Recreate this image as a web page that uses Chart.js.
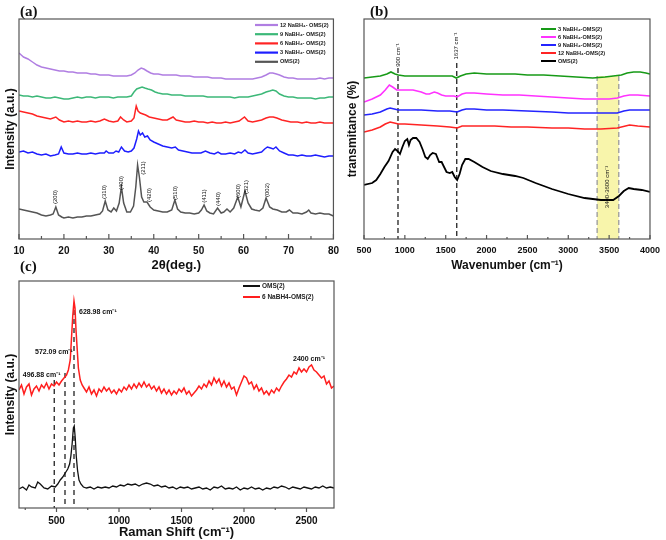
<!DOCTYPE html>
<html>
<head>
<meta charset="utf-8">
<script src="https://cdn.jsdelivr.net/npm/chart.js@4.4.1/dist/chart.umd.min.js"></script>
<style>
body { margin: 0; background: #fff; }
#wrap { position: relative; width: 666px; height: 540px; }
canvas { position: absolute; }
</style>
</head>
<body>
<div id="wrap">
<canvas id="xrd" width="345" height="275" style="left:0;top:0"></canvas>
<canvas id="ftir" width="326" height="275" style="left:340px;top:0"></canvas>
<canvas id="raman" width="345" height="285" style="left:0;top:255px"></canvas>
</div>
<script>
// ---- (a) XRD, [2theta, intensity] ----
const xrdOms = [[10,30],[11,29],[12,28],[13,27],[14,26],[15,24],[16,23],[17,24],[17.6,25],[18.2,32],[18.8,24],[19.5,22],[20,21],[21,22],[22,21],[23,22],[24,22],[25,23],[26,23],[27,24],[28,25],[28.6,28],[29.2,38],[29.8,29],[30.5,27],[31.1,31],[31.7,28],[32.3,36],[32.8,52],[33.3,36],[34,27],[34.8,27],[35.5,33],[36,52],[36.4,74],[36.8,62],[37.3,42],[37.8,37],[38.5,37],[39.2,32],[40,29],[41,28],[42,27],[43,27],[44,29],[44.7,39],[45.3,30],[46,27],[47,26],[48,26],[49,25],[50,26],[50.6,29],[51.2,34],[51.8,28],[52.5,26],[53.3,25],[54.2,31],[55,26],[55.6,27],[56.3,30],[57,27],[57.8,31],[58.7,42],[59.4,32],[60.3,48],[61,36],[61.8,30],[62.5,29],[63.5,28],[64.3,31],[65,41],[65.8,32],[66.5,30],[67.5,29],[68.5,27],[69.5,27],[70.2,29],[71,26],[72,26],[73,25],[74,27],[74.5,29],[75,26],[76,25],[77,26],[78,25],[79,25],[80,23]];
const xrd3 = [[10,87],[11,88],[12,86],[13,87],[14,85],[15,84],[16,85],[17,83],[18,84],[18.8,85],[19.4,92],[20,86],[21,85],[22,85],[23,86],[24,85],[25,85],[26,86],[27,85],[28,86],[29,86],[29.4,88],[30,86],[31,86],[31.6,88],[32.2,87],[32.8,92],[33.5,88],[34.3,87],[35,88],[35.6,91],[36.2,100],[36.6,108],[37,104],[37.5,106],[38,102],[38.6,103],[39.2,99],[40,97],[41,95],[42,93],[43,92],[44,91],[44.8,92],[45.5,89],[46.5,88],[47.5,87],[48.5,86],[49.5,86],[50.5,86],[51.5,88],[52.5,86],[53.5,85],[54.3,87],[55,85],[56,85],[57,86],[58,85],[58.8,87],[59.5,86],[60.3,89],[61,86],[62,85],[63,86],[64,87],[64.7,90],[65.3,92],[66,91],[66.6,90],[67.2,92],[68,88],[69,86],[70,84],[71,84],[72,83],[73,84],[74,83],[75,83],[76,84],[77,83],[78,82],[79,83],[80,83]];
const xrd6 = [[10,128],[11,127],[12,126],[13,125],[14,123],[15,122],[16,121],[17,120],[18.2,122],[19,119],[20,117],[21,118],[22,117],[23,118],[24,117],[25,117],[26,118],[27,117],[28,118],[29,120],[30,118],[31,117],[32,118],[32.6,122],[33.3,119],[34,117],[35,118],[35.6,121],[36.1,133],[36.5,128],[37,126],[37.6,125],[38.2,124],[39,122],[40,121],[41,120],[42,119],[43,119],[44.3,122],[45,119],[46,118],[47,117],[48,117],[49,118],[50,117],[51,117],[52,116],[53,117],[54,116],[55,116],[56,117],[57,116],[58,117],[59,118],[60.2,122],[61,118],[62,117],[63,118],[64,119],[65,121],[65.8,122],[66.6,122],[67.4,121],[68.5,119],[69.5,118],[70.5,117],[72,117],[73,116],[74,117],[75,116],[76,116],[77,117],[78,116],[79,116],[80,116]];
const xrd9 = [[10,144],[11,143],[12,143],[13,142],[14,143],[15,142],[16,141],[17,141],[18,142],[19,141],[20,140],[21,140],[22,141],[23,142],[24,141],[25,142],[26,142],[27,141],[28,142],[29,142],[30,142],[31,141],[32,142],[33,142],[34,142],[35,143],[35.6,147],[36.2,150],[36.8,151],[37.4,152],[38,151],[38.7,150],[39.5,149],[40.3,147],[41,146],[42,145],[43,145],[44,144],[45,144],[46,144],[47,143],[48,143],[49,143],[50,143],[51,143],[52,142],[53,142],[54,142],[55,142],[56,142],[57,142],[58,141],[59,142],[60,142],[61,142],[62,143],[63,144],[64,145],[65,147],[65.8,148],[66.5,149],[67.2,148],[68,145],[69,143],[70,142],[71,142],[72,141],[73,141],[74,141],[75,141],[76,140],[77,141],[78,141],[79,142],[80,142]];
const xrd12 = [[10,186],[10.5,184],[11,182],[12,180],[13,177],[14,174],[15,172],[16,171],[17,170],[18,169],[19,168],[20,168],[21,167],[22,167],[23,166],[24,166],[25,166],[26,165],[27,165],[28,164],[29,164],[30,164],[31,163],[32,163],[33,163],[34,163],[35,164],[35.8,166],[36.5,169],[37.2,171],[37.8,170],[38.5,168],[39.3,166],[40,165],[41,165],[42,164],[43,164],[44,164],[45,164],[46,163],[47,163],[48,163],[49,162],[50,162],[51,162],[52,162],[53,161],[54,161],[55,161],[56,160],[57,160],[58,160],[59,160],[60,160],[61,160],[62,160],[63,161],[64,162],[65,164],[65.8,166],[66.5,166],[67.3,165],[68,164],[69,162],[70,161],[71,161],[72,160],[73,160],[74,160],[75,160],[76,160],[77,161],[78,160],[79,161],[80,161]];
const hklText = ['(200)','(310)','(400)','(211)','(420)','(510)','(411)','(440)','(600)','(521)','(002)'];
const hklAt = [18.0, 29.1, 32.8, 37.6, 39.0, 44.8, 51.2, 54.3, 58.8, 60.6, 65.2];
const hklHeight = [42, 47, 56, 71, 44, 46, 43, 40, 48, 52, 49];

// ---- (b) FTIR, [wavenumber, transmittance] ----
const ir3 = [[500,161],[600,162],[700,163],[780,165],[830,167],[880,165],[920,164],[1000,163],[1100,163],[1200,163],[1300,163],[1400,163],[1500,163],[1580,163],[1630,161],[1680,163],[1750,165],[1850,166],[2000,165],[2200,165],[2350,165],[2500,164],[2700,164],[2900,163],[3100,162],[3300,161],[3450,162],[3550,163],[3650,164],[3720,166],[3800,167],[3880,167],[3950,166],[4000,165]];
const ir6 = [[500,137],[600,140],[700,144],[760,149],[810,154],[850,152],[900,149],[950,149],[1000,149],[1100,149],[1200,147],[1260,145],[1300,145],[1360,147],[1400,146],[1450,144],[1500,143],[1560,143],[1600,143],[1640,142],[1700,145],[1750,146],[1850,146],[2000,145],[2200,144],[2400,144],[2600,143],[2800,142],[3000,141],[3200,140],[3350,140],[3500,140],[3600,141],[3680,143],[3750,144],[3850,144],[4000,143]];
const ir9 = [[500,124],[600,125],[700,127],[780,130],[820,131],[870,130],[920,129],[1000,129],[1200,129],[1400,128],[1550,128],[1640,127],[1700,129],[1750,130],[1850,130],[2000,129],[2200,129],[2500,128],[2800,127],[3000,126],[3200,126],[3400,126],[3600,126],[3680,128],[3750,129],[3900,129],[4000,129]];
const ir12 = [[500,107],[600,109],[700,112],[760,115],[820,117],[870,116],[920,115],[1000,115],[1200,114],[1400,113],[1550,112],[1640,111],[1700,113],[1750,113],[1900,113],[2100,113],[2300,112],[2500,112],[2800,111],[3000,111],[3200,110],[3400,110],[3600,111],[3700,113],[3750,114],[3850,113],[4000,112]];
const irOms = [[500,54],[600,56],[650,59],[700,65],[750,72],[800,78],[850,87],[880,90],[910,88],[940,85],[970,92],[1000,98],[1030,100],[1050,94],[1070,99],[1100,101],[1140,101],[1180,97],[1220,89],[1250,82],[1280,80],[1310,84],[1340,86],[1380,85],[1420,77],[1450,77],[1480,72],[1510,67],[1550,66],[1580,67],[1610,62],[1640,59],[1670,65],[1700,74],[1740,80],[1780,80],[1850,77],[1950,72],[2050,68],[2200,65],[2350,63],[2450,61],[2600,56],[2800,50],[3000,45],[3200,41],[3400,39],[3550,39],[3620,43],[3680,48],[3740,51],[3800,50],[3900,49],[4000,47]];
const irMarks = [916, 1635];
const irMarkText = ['900 cm⁻¹', '1637 cm⁻¹'];
const irBand = [3353, 3618];

// ---- (c) Raman, [shift, intensity] ----
const ramanOms = [[200,19],[230,21],[260,18],[280,23],[300,21],[330,20],[350,26],[370,24],[400,20],[430,19],[460,22],[490,21],[510,24],[530,28],[550,31],[570,35],[590,39],[605,44],[615,52],[625,64],[635,80],[642,82],[650,70],[658,52],[668,38],[680,28],[695,24],[715,21],[740,20],[770,21],[800,19],[830,21],[860,20],[890,21],[920,20],[950,22],[980,21],[1010,23],[1040,22],[1070,24],[1100,23],[1130,24],[1160,22],[1190,24],[1220,25],[1250,24],[1280,22],[1310,23],[1340,21],[1370,22],[1400,20],[1430,21],[1460,19],[1490,21],[1520,20],[1550,21],[1580,19],[1610,20],[1640,21],[1670,19],[1700,20],[1730,18],[1760,21],[1790,20],[1820,22],[1850,19],[1880,20],[1910,19],[1940,21],[1970,18],[2000,20],[2030,19],[2060,21],[2090,19],[2120,20],[2150,18],[2180,20],[2210,19],[2240,21],[2270,20],[2300,22],[2330,21],[2360,19],[2390,21],[2420,20],[2450,19],[2480,21],[2510,20],[2540,19],[2570,21],[2600,20],[2630,22],[2660,20],[2690,21],[2720,20]];
const raman6 = [[200,118],[220,123],[240,114],[260,121],[280,124],[300,113],[320,119],[340,122],[360,117],[380,123],[400,120],[420,125],[440,119],[460,124],[480,122],[500,126],[520,123],[540,127],[560,130],[580,133],[595,138],[610,148],[620,170],[630,192],[640,207],[648,200],[656,178],[665,160],[675,140],[690,128],[705,123],[720,120],[740,116],[760,121],[780,114],[800,118],[820,112],[840,119],[860,116],[880,121],[900,117],[920,120],[940,115],[960,118],[980,114],[1000,119],[1020,116],[1040,121],[1060,118],[1080,123],[1100,119],[1120,124],[1140,120],[1160,125],[1180,121],[1200,126],[1220,121],[1240,124],[1260,119],[1280,122],[1300,117],[1320,121],[1340,115],[1360,119],[1380,114],[1400,118],[1420,113],[1440,117],[1460,114],[1480,119],[1500,116],[1520,120],[1540,114],[1560,117],[1580,112],[1600,115],[1620,118],[1640,122],[1660,119],[1680,124],[1700,121],[1720,127],[1740,123],[1760,130],[1780,125],[1800,129],[1820,122],[1840,127],[1860,121],[1880,125],[1900,119],[1920,121],[1940,113],[1960,120],[1980,126],[2000,132],[2020,130],[2040,124],[2060,126],[2080,119],[2100,123],[2120,117],[2140,120],[2160,114],[2180,117],[2200,113],[2220,118],[2240,115],[2260,120],[2280,117],[2300,122],[2320,126],[2340,129],[2360,133],[2380,131],[2400,136],[2420,134],[2440,140],[2460,136],[2480,139],[2500,136],[2520,141],[2540,143],[2560,138],[2580,136],[2600,133],[2620,130],[2640,132],[2660,124],[2680,127],[2700,120],[2720,122]];
const ramanMarks = [482, 568, 640];
const ramanMarkTop = [128, 135, 198];
const ramanText = ['496.88 cm⁻¹', '572.09 cm⁻¹', '628.98 cm⁻¹', '2400 cm⁻¹'];
const ramanTextAt = [[230,133],[328,156],[680,196],[2392,149]];
const ramanTicks = [500, 1000, 1500, 2000, 2500];

Chart.defaults.font.family = '"Liberation Sans", Arial, sans-serif';
Chart.defaults.color = '#111';
Chart.defaults.animation = false;

function pts(arr) {
  return arr.map(p => ({x: p[0], y: p[1]}));
}

function line(label, data, color, width) {
  return {label: label, data: pts(data), borderColor: color, backgroundColor: color,
    borderWidth: width, pointRadius: 0, tension: 0, fill: false};
}

function axes(o) {
  return {
    x: {
      type: 'linear', min: o.xmin, max: o.xmax,
      afterFit: s => { s.height = o.xh; },
      afterBuildTicks: o.xticks ? s => { s.ticks = o.xticks.map(v => ({value: v})); } : undefined,
      grid: {display: false, drawTicks: false},
      border: {display: false},
      ticks: {stepSize: o.step, padding: o.pad, maxRotation: 0, color: '#111',
        font: {size: o.tsize, weight: 'bold'}, callback: v => String(v)},
      title: {display: true, text: o.xtitle, color: '#111', font: {size: o.xts, weight: 'bold'}, padding: {top: 0, bottom: o.xtp}}
    },
    y: {
      min: 0, max: o.ymax,
      afterFit: s => { s.width = o.yw; },
      grid: {display: false, drawTicks: false},
      border: {display: false},
      ticks: {display: false},
      title: {display: true, text: o.ytitle, color: '#111', font: {size: 12, weight: 'bold'}, padding: {top: o.ytp, bottom: 0}}
    }
  };
}

// box around the plot and the tick marks on the bottom axis
const frameTicks = {
  id: 'frameTicks',
  afterDraw(chart, args, o) {
    const {ctx, chartArea: a} = chart;
    const x = chart.scales.x;
    ctx.save();
    ctx.strokeStyle = '#555';
    ctx.lineWidth = 1.2;
    ctx.strokeRect(a.left, a.top, a.right - a.left, a.bottom - a.top);
    const dir = o.inward ? -1 : 1;
    const vals = x.ticks.map(t => t.value);
    const step = vals[1] - vals[0];
    const tick = (v, len) => {
      if (v < x.min || v > x.max) return;
      const px = x.getPixelForValue(v);
      ctx.beginPath();
      ctx.moveTo(px, a.bottom);
      ctx.lineTo(px, a.bottom + dir * len);
      ctx.stroke();
    };
    vals.forEach(v => {
      tick(v, o.major);
      tick(v + step / 2, o.minor);
    });
    tick(vals[0] - step / 2, o.minor);
    ctx.restore();
  }
};

// panel letter, dashed marker lines, highlighted band and text notes
const notes = {
  id: 'notes',
  beforeDatasetsDraw(chart, args, o) {
    const {ctx} = chart;
    const x = chart.scales.x, y = chart.scales.y;
    ctx.save();
    if (o.band) {
      const x0 = x.getPixelForValue(o.band.x0), x1 = x.getPixelForValue(o.band.x1);
      const yt = y.getPixelForValue(o.band.top), yb = y.getPixelForValue(0);
      ctx.fillStyle = o.band.fill;
      ctx.fillRect(x0, yt, x1 - x0, yb - yt);
      ctx.strokeStyle = '#9a9a9a';
      ctx.lineWidth = 1.3;
      ctx.setLineDash([5, 3]);
      [x0, x1].forEach(px => {
        ctx.beginPath(); ctx.moveTo(px, yt); ctx.lineTo(px, yb); ctx.stroke();
      });
    }
    (o.vlines || []).forEach(l => {
      const px = x.getPixelForValue(l.x);
      ctx.strokeStyle = '#222';
      ctx.lineWidth = 1.3;
      ctx.setLineDash(l.dash);
      ctx.beginPath();
      ctx.moveTo(px, y.getPixelForValue(l.top));
      ctx.lineTo(px, y.getPixelForValue(0));
      ctx.stroke();
    });
    ctx.restore();
  },
  afterDraw(chart, args, o) {
    const {ctx} = chart;
    const x = chart.scales.x, y = chart.scales.y;
    ctx.save();
    ctx.fillStyle = '#111';
    ctx.textBaseline = 'middle';
    ctx.font = 'bold 15px "Liberation Serif", "Times New Roman", serif';
    ctx.textAlign = 'left';
    ctx.fillText(o.panel, o.panelX, o.panelY);
    (o.texts || []).forEach(t => {
      ctx.save();
      ctx.font = t.font;
      ctx.translate(x.getPixelForValue(t.x), y.getPixelForValue(t.y));
      if (t.rot) {
        ctx.rotate(-Math.PI / 2);
        ctx.textAlign = 'center';
      } else {
        ctx.textAlign = 'left';
      }
      ctx.fillText(t.text, 0, 0);
      ctx.restore();
    });
    ctx.restore();
  }
};

// legend box drawn inside the plot
const keyBox = {
  id: 'keyBox',
  afterDraw(chart, args, o) {
    const ctx = chart.ctx;
    ctx.save();
    ctx.font = 'bold ' + o.size + 'px "Liberation Sans", Arial, sans-serif';
    ctx.textBaseline = 'middle';
    ctx.textAlign = 'left';
    chart.data.datasets.forEach((d, i) => {
      const yy = o.y + i * o.step;
      ctx.strokeStyle = d.borderColor;
      ctx.lineWidth = o.lw;
      ctx.beginPath();
      ctx.moveTo(o.x, yy);
      ctx.lineTo(o.x + o.len, yy);
      ctx.stroke();
      ctx.fillStyle = '#222';
      ctx.fillText(d.label, o.x + o.len + 2, yy);
    });
    ctx.restore();
  }
};

const plugins = [frameTicks, notes, keyBox];

new Chart(document.getElementById('xrd'), {
  type: 'line',
  plugins: plugins,
  data: {
    datasets: [
      line('12 NaBH₄- OMS(2)', xrd12, '#b07ee2', 1.5),
      line('9 NaBH₄- OMS(2)', xrd9, '#3cb878', 1.5),
      line('6 NaBH₄- OMS(2)', xrd6, '#ff2424', 1.5),
      line('3 NaBH₄- OMS(2)', xrd3, '#1e1eff', 1.5),
      line('OMS(2)', xrdOms, '#555555', 1.5)
    ]
  },
  options: {
    responsive: false,
    layout: {padding: {left: 0, top: 19, right: 10, bottom: 0}},
    scales: axes({xmin: 10, xmax: 80, step: 10, xh: 36, pad: 6, tsize: 10,
      xtitle: '2θ(deg.)', xts: 13, xtp: 2, ymax: 220, yw: 19, ytitle: 'Intensity (a.u.)', ytp: 3}),
    plugins: {
      legend: {display: false},
      tooltip: {enabled: false},
      frameTicks: {inward: true, major: 5, minor: 3},
      keyBox: {x: 255, y: 25, step: 9.2, len: 23, lw: 2.2, size: 5.6},
      notes: {
        panel: '(a)', panelX: 20, panelY: 12,
        texts: hklText.map((t, i) => ({text: t, x: hklAt[i], y: hklHeight[i], rot: true,
          font: '6px "Liberation Sans", Arial, sans-serif'}))
      }
    }
  }
});

new Chart(document.getElementById('ftir'), {
  type: 'line',
  plugins: plugins,
  data: {
    datasets: [
      line('3 NaBH₄-OMS(2)', ir3, '#179a17', 1.6),
      line('6 NaBH₄-OMS(2)', ir6, '#ff32ff', 1.6),
      line('9 NaBH₄-OMS(2)', ir9, '#2424ff', 1.6),
      line('12 NaBH₄-OMS(2)', ir12, '#ff2424', 1.6),
      line('OMS(2)', irOms, '#000000', 1.8)
    ]
  },
  options: {
    responsive: false,
    layout: {padding: {left: 0, top: 19, right: 10, bottom: 0}},
    scales: axes({xmin: 500, xmax: 4000, step: 500, xh: 36, pad: 6, tsize: 9,
      xtitle: 'Wavenumber (cm⁻¹)', xts: 12, xtp: 2, ymax: 220, yw: 24, ytitle: 'transmitance (%)', ytp: 5}),
    plugins: {
      legend: {display: false},
      tooltip: {enabled: false},
      frameTicks: {inward: true, major: 4, minor: 2},
      keyBox: {x: 201, y: 29, step: 8, len: 15, lw: 2, size: 5.6},
      notes: {
        panel: '(b)', panelX: 30, panelY: 12,
        band: {x0: irBand[0], x1: irBand[1], top: 163, fill: 'rgba(246,242,150,0.8)'},
        vlines: [{x: irMarks[0], top: 171, dash: [5, 3]}, {x: irMarks[1], top: 176, dash: [5, 3]}],
        texts: [
          {text: irMarkText[0], x: irMarks[0], y: 184, rot: true, font: '6px "Liberation Sans", Arial, sans-serif'},
          {text: irMarkText[1], x: irMarks[1], y: 193, rot: true, font: '6px "Liberation Sans", Arial, sans-serif'},
          {text: '3400-3600 cm⁻¹', x: 3480, y: 52, rot: true, font: '6px "Liberation Sans", Arial, sans-serif'}
        ]
      }
    }
  }
});

new Chart(document.getElementById('raman'), {
  type: 'line',
  plugins: plugins,
  data: {
    datasets: [
      line('OMS(2)', ramanOms, '#111111', 1.3),
      line('6 NaBH4-OMS(2)', raman6, '#ff1e1e', 1.5)
    ]
  },
  options: {
    responsive: false,
    layout: {padding: {left: 0, top: 26, right: 11, bottom: 0}},
    scales: axes({xmin: 200, xmax: 2720, xticks: ramanTicks, xh: 32, pad: 7, tsize: 10,
      xtitle: 'Raman Shift (cm⁻¹)', xts: 13, xtp: 0, ymax: 227, yw: 19, ytitle: 'Intensity (a.u.)', ytp: 3}),
    plugins: {
      legend: {display: false},
      tooltip: {enabled: false},
      frameTicks: {inward: false, major: 4, minor: 2},
      keyBox: {x: 243, y: 31, step: 11, len: 17, lw: 2, size: 6.5},
      notes: {
        panel: '(c)', panelX: 20, panelY: 12,
        vlines: ramanMarks.map((m, i) => ({x: m, top: ramanMarkTop[i], dash: [5, 4]})),
        texts: ramanText.map((t, i) => ({text: t, x: ramanTextAt[i][0], y: ramanTextAt[i][1], rot: false,
          font: 'bold 7px "Liberation Sans", Arial, sans-serif'}))
      }
    }
  }
});
</script>
</body>
</html>
